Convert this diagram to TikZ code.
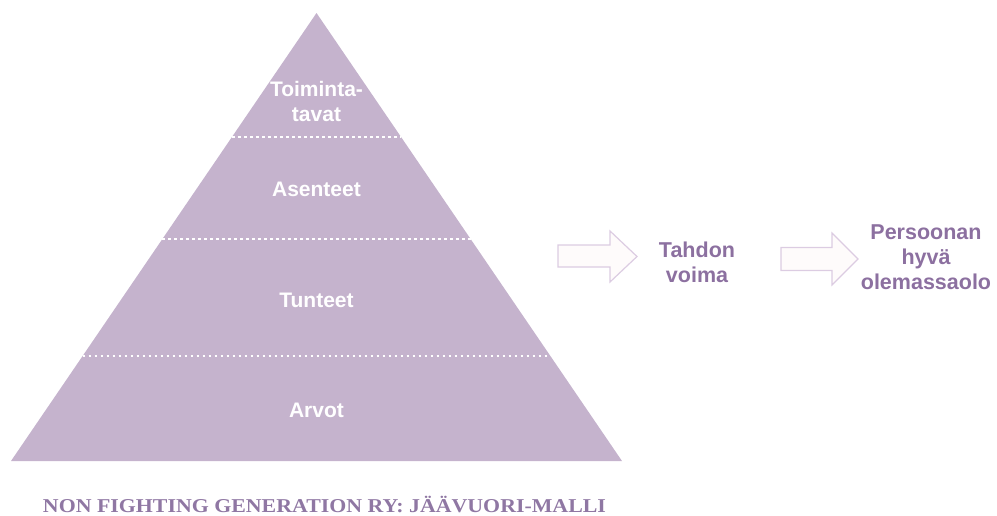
\documentclass[tikz,border=0pt]{standalone}
\usepackage{fontspec}
\setmainfont{Liberation Sans}
\newfontfamily\capfont{Liberation Serif}
\usetikzlibrary{calc}
\definecolor{pyr}{HTML}{C5B3CD}
\definecolor{lbl}{HTML}{8C70A0}
\definecolor{arrline}{HTML}{DCCCE2}
\definecolor{arrfill}{HTML}{FEFBFB}
\definecolor{capc}{HTML}{8F77A3}
\tikzset{
  lvl/.style={text=white, font=\fontsize{21}{25}\selectfont\bfseries, align=center, inner sep=0pt},
  side/.style={text=lbl, font=\fontsize{21.5}{25}\selectfont\bfseries, align=center, inner sep=0pt},
  sep/.style={white, line width=2.4pt, dash pattern=on 2.6pt off 3.4pt},
  blockarrow/.style={draw=arrline, fill=arrfill, line width=1.2pt, line join=miter}
}
\begin{document}
\begin{tikzpicture}[x=1pt,y=-1pt]
\useasboundingbox (0,0) rectangle (997,515);
\coordinate (A) at (316.5,13);
\coordinate (BL) at (11,461);
\coordinate (BR) at (622,461);
\fill[pyr] (A) -- (BL) -- (BR) -- cycle;
\draw[sep] ($(A)!0.2768!(BL)$) -- ($(A)!0.2768!(BR)$);
\draw[sep] ($(A)!0.5045!(BL)$) -- ($(A)!0.5045!(BR)$);
\draw[sep] ($(A)!0.7656!(BL)$) -- ($(A)!0.7656!(BR)$);
\node[lvl] (toim) at (316.5,101) {Toiminta-\\tavat};
\node[lvl] (asen) at (316.5,189) {Asenteet};
\node[lvl] (tunt) at (316.5,300) {Tunteet};
\node[lvl] (arvo) at (316.5,410) {Arvot};
\draw[blockarrow] (558,245) -- (610,245) -- (610,231) -- (637,256.5) -- (610,282) -- (610,267) -- (558,267) -- cycle;
\draw[blockarrow] (781,247.5) -- (832,247.5) -- (832,233) -- (858,259) -- (832,285) -- (832,270.5) -- (781,270.5) -- cycle;
\node[side] (tahd) at (697,262) {Tahdon\\voima};
\node[side] (pers) at (926,257) {Persoonan\\hyvä\\olemassaolo};
\node[anchor=base, inner sep=0pt, text=capc] (cap) at (324.5,512.3)
  {\resizebox{563pt}{\height}{\capfont\fontsize{19.6}{20}\selectfont\bfseries NON FIGHTING GENERATION RY: JÄÄVUORI-MALLI}};
\end{tikzpicture}
\end{document}
